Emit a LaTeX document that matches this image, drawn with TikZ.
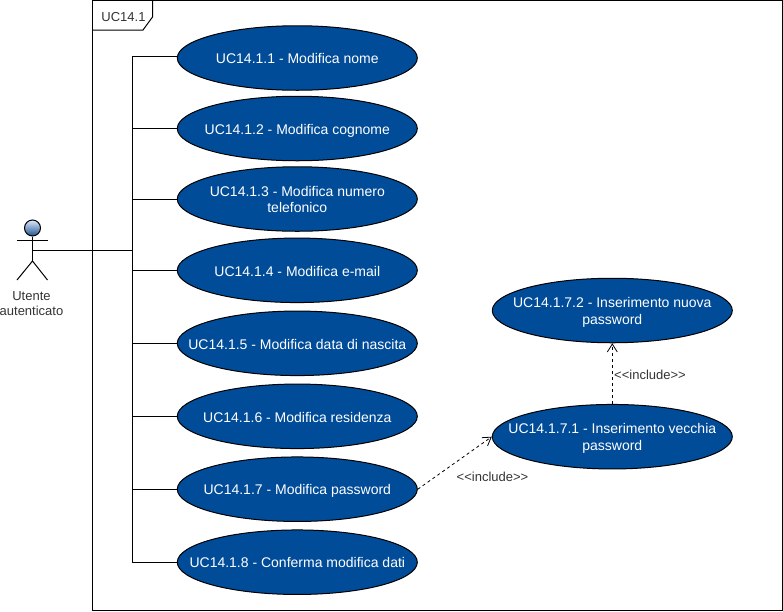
\documentclass[tikz,border=0pt]{standalone}
\usepackage{fontspec}
\setmainfont{Liberation Sans}
\usepackage{xcolor}
\usetikzlibrary{arrows.meta, shapes.geometric}
\definecolor{ucblue}{HTML}{004C99}
\definecolor{headtop}{HTML}{DAE8FC}
\definecolor{headbot}{HTML}{23538F}
\definecolor{labelgray}{HTML}{333333}
\tikzset{
    usecase/.style={ellipse, draw=black, fill=ucblue, text=white, minimum width=240pt, minimum height=64.5pt,
        inner xsep=-60pt, inner ysep=0pt, align=center, text height=11.4pt, text depth=0pt,
        font=\fontsize{14}{16.5}\selectfont},
    twoline/.style={text height=27pt},
    tag/.style={text=labelgray, inner sep=0pt, font=\fontsize{13}{15.5}\selectfont},
    include/.style={dash pattern=on 3pt off 3pt, line width=0.8pt, -{Straight Barb[length=8pt,width=10pt]}}
}
\begin{document}
\begin{tikzpicture}[x=1pt, y=-1pt, line width=1pt]
        \useasboundingbox (0, 0) rectangle (783, 611);
        \draw (92.5, 0.5) rectangle (782, 610);
        \draw (92.5, 30) -- (143, 30) -- (152.5, 17) -- (152.5, 0.5);
        \node [tag] (frametag) at (123.5, 17.5) {UC14.1};

        \node [usecase] (uc1) at (297.3, 58) {UC14.1.1 - Modifica nome};
        \node [usecase] (uc2) at (297.3, 128.5) {UC14.1.2 - Modifica cognome};
        \node [usecase, twoline] (uc3) at (297.3, 199) {UC14.1.3 - Modifica numero\\telefonico};
        \node [usecase] (uc4) at (297.3, 270.3) {UC14.1.4 - Modifica e-mail};
        \node [usecase] (uc5) at (297.3, 343.3) {UC14.1.5 - Modifica data di nascita};
        \node [usecase] (uc6) at (297.3, 416.3) {UC14.1.6 - Modifica residenza};
        \node [usecase] (uc7) at (297.3, 489.2) {UC14.1.7 - Modifica password};
        \node [usecase] (uc8) at (297.3, 562.2) {UC14.1.8 - Conferma modifica dati};
        \node [usecase, twoline] (uc71) at (612.3, 436.7) {UC14.1.7.1 - Inserimento vecchia\\password};
        \node [usecase, twoline] (uc72) at (612.3, 310.5) {UC14.1.7.2 - Inserimento nuova\\password};

        % attore
        \node [circle, draw=black, top color=headtop, bottom color=headbot, minimum size=16pt, inner sep=0pt] (head) at (32.5, 228) {};
        \coordinate (hip) at (32.5, 261);
        \coordinate (waist) at (32.5, 250);
        \draw (head.south) -- (hip);
        \draw (17, 240.5) -- (47.5, 240.5);
        \draw (17, 280) -- (hip) -- (47.5, 280);
        \node [tag, align=center] (actor) at (31.5, 303.5) {Utente\\autenticato};

        % collegamenti
        \coordinate (bus) at (132.5, 250);
        \coordinate (uc1in) at (178, 56);
        \draw (waist) -- (bus);
        \foreach \uc in {uc1in, uc2.west, uc3.west, uc4.west, uc5.west, uc6.west, uc7.west, uc8.west} {
            \draw (bus) |- (\uc);
        }

        \draw [include] (uc7.east) -- (uc71.west);
        \draw [include] (uc71.north) -- (uc72.south);
        \node [tag] (inctag1) at (492.5, 477) {<{}<include>{}>};
        \node [tag] (inctag2) at (650, 374.5) {<{}<include>{}>};
        \end{tikzpicture}
\end{document}
